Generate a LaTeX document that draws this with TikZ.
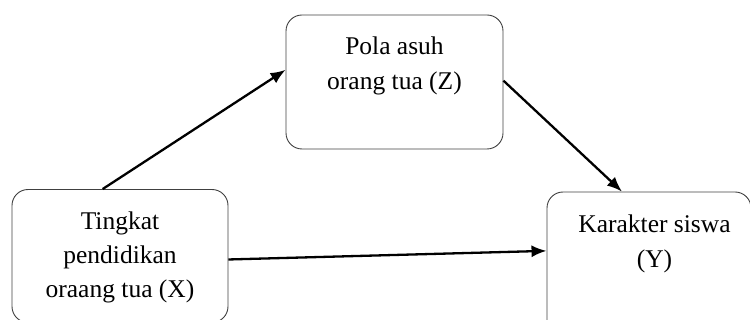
\documentclass[tikz,border=0pt]{standalone}
\usepackage{fontspec}
\setmainfont{Liberation Serif}
\usetikzlibrary{arrows.meta,calc}
\begin{document}
\begin{tikzpicture}[x=1pt,y=-1pt,
  box/.style={draw=black!75,line width=0.9pt,rounded corners=16pt,inner sep=0pt,minimum width=#1},
  lbl/.style={anchor=base,inner sep=0pt,font=\fontsize{25.5}{34}\selectfont},
  conn/.style={line width=2.3pt,-{Latex[length=15pt,width=12pt]}}]
\useasboundingbox (0,0) rectangle (750,320);
\clip (0,0) rectangle (750,320);
% boxes
\node[box=217pt,minimum height=134pt] (Z) at (394.5,82) {};
\node[box=216pt,minimum height=133pt] (X) at (120,256) {};
\node[box=204pt,minimum height=150pt] (Y) at (649,267) {};
% texts
\node[lbl] (z1) at (394.5,55) {Pola asuh};
\node[lbl] (z2) at (394.5,90) {orang tua (Z)};
\node[lbl] (x1) at (120,230) {Tingkat};
\node[lbl] (x2) at (120,264) {pendidikan};
\node[lbl] (x3) at (120,298) {oraang tua (X)};
\node[lbl] (y1) at (654.5,233) {Karakter siswa};
\node[lbl] (y2) at (654.5,268) {(Y)};
% connectors
\draw[conn] ($(X.north west)!0.42!(X.north east)$) -- ($(Z.north west)!0.41!(Z.south west)$);
\draw[conn] ($(Z.north east)!0.49!(Z.south east)$) -- ($(Y.north west)!0.368!(Y.north east)$);
\draw[conn] ($(X.north east)!0.526!(X.south east)$) -- ($(Y.north west)!0.393!(Y.south west)$);
\end{tikzpicture}
\end{document}
